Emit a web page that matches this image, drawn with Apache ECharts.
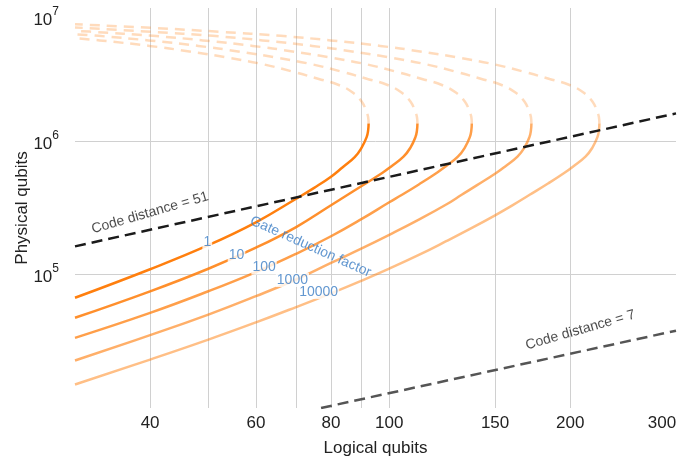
<!DOCTYPE html>
<html>
<head>
<meta charset="utf-8">
<script src="https://cdn.jsdelivr.net/npm/echarts@6/dist/echarts.min.js"></script>
<style>
  html, body { margin: 0; padding: 0; background: #fff; }
  #chart { width: 699px; height: 462px; }
</style>
</head>
<body>
<div id="chart"></div>
<script>
// grid lines / labels on the log axes
const xTicks = [40, 50, 60, 70, 80, 90, 100, 150, 200]
const xLabels = [40, 60, 80, 100, 150, 200, 300]
const yTicks = [1e5, 1e6]
const yLabels = [1e5, 1e6, 1e7]

const factors = ['1', '10', '100', '1000', '10000']

// lower branch (solid), from the left edge up to the turning point
const solid1 = [[30, 6.71e4], [40, 1.098e5], [50, 1.663e5], [60, 2.47e5], [70, 3.71e5], [75, 4.48e5], [80, 5.43e5], [83.67, 6.40e5], [87.6, 7.61e5], [89.96, 8.97e5], [91.7, 1.075e6], [92.22, 1.204e6], [92.4, 1.359e6]]
const solid10 = [[30, 4.75e4], [40, 7.50e4], [50, 1.108e5], [60, 1.594e5], [70, 2.276e5], [80, 3.314e5], [85.28, 3.973e5], [97.47, 5.817e5], [100.87, 6.51e5], [105.61, 7.67e5], [108.46, 8.97e5], [110.55, 1.075e6], [111.19, 1.204e6], [111.4, 1.359e6]]
const solid100 = [[30, 3.36e4], [40, 5.17e4], [50, 7.51e4], [60, 1.046e5], [70, 1.434e5], [80, 1.941e5], [90, 2.618e5], [100, 3.49e5], [105.03, 3.973e5], [112, 4.75e5], [120.04, 5.817e5], [124.24, 6.51e5], [130.07, 7.67e5], [133.58, 8.97e5], [136.16, 1.075e6], [136.94, 1.204e6], [137.2, 1.359e6]]
const solid1000 = [[30, 2.272e4], [40, 3.52e4], [50, 5.02e4], [60, 6.90e4], [70, 9.20e4], [80, 1.225e5], [90, 1.574e5], [100, 1.989e5], [112, 2.586e5], [124.6, 3.372e5], [131.98, 3.973e5], [140, 4.69e5], [150.84, 5.817e5], [156.11, 6.51e5], [163.44, 7.67e5], [167.86, 8.97e5], [171.09, 1.075e6], [172.07, 1.204e6], [172.4, 1.359e6]]
const solid10000 = [[30, 1.50e4], [40, 2.308e4], [50, 3.257e4], [60, 4.386e4], [70, 5.716e4], [80, 7.247e4], [90, 9.03e4], [100, 1.11e5], [112, 1.406e5], [124.6, 1.789e5], [137, 2.233e5], [150, 2.787e5], [160, 3.296e5], [171.25, 3.973e5], [184, 4.85e5], [195.73, 5.817e5], [202.56, 6.51e5], [212.07, 7.67e5], [217.8, 8.97e5], [222.0, 1.075e6], [223.27, 1.204e6], [223.7, 1.359e6]]

// upper branch (dashed), from the turning point back to the left edge
const dashed1 = [[92.4, 1.359e6], [92.22, 1.521e6], [91.7, 1.658e6], [89.96, 1.989e6], [86.93, 2.324e6], [82.4, 2.646e6], [76.34, 2.936e6], [69.4, 3.314e6], [61.89, 3.773e6], [54.16, 4.224e6], [46.48, 4.725e6], [39.9, 5.197e6], [32.97, 5.716e6], [30, 5.94e6]]
const dashed10 = [[111.4, 1.359e6], [111.19, 1.521e6], [110.55, 1.658e6], [108.46, 1.989e6], [104.8, 2.324e6], [99.35, 2.646e6], [92.04, 2.936e6], [83.67, 3.314e6], [74.62, 3.773e6], [65.29, 4.224e6], [56.04, 4.725e6], [48.11, 5.197e6], [39.75, 5.716e6], [32.84, 6.18e6], [30, 6.353e6]]
const dashed100 = [[137.2, 1.359e6], [136.94, 1.521e6], [136.16, 1.658e6], [133.58, 1.989e6], [129.07, 2.324e6], [122.35, 2.646e6], [113.36, 2.936e6], [103.05, 3.314e6], [91.9, 3.773e6], [80.42, 4.224e6], [69.02, 4.725e6], [59.25, 5.197e6], [48.95, 5.716e6], [40.45, 6.18e6], [32.17, 6.624e6], [30, 6.744e6]]
const dashed1000 = [[172.4, 1.359e6], [172.07, 1.521e6], [171.09, 1.658e6], [167.86, 1.989e6], [162.19, 2.324e6], [153.75, 2.646e6], [142.44, 2.936e6], [129.49, 3.314e6], [115.48, 3.773e6], [101.05, 4.224e6], [86.73, 4.725e6], [74.45, 5.197e6], [61.51, 5.716e6], [50.83, 6.18e6], [40.42, 6.624e6], [30, 7.145e6]]
const dashed10000 = [[223.7, 1.359e6], [223.27, 1.521e6], [222.0, 1.658e6], [217.8, 1.989e6], [210.45, 2.324e6], [199.5, 2.646e6], [184.83, 2.936e6], [168.03, 3.314e6], [149.84, 3.773e6], [131.12, 4.224e6], [112.53, 4.725e6], [96.6, 5.197e6], [79.82, 5.716e6], [65.95, 6.18e6], [52.45, 6.624e6], [40.16, 7.099e6], [30, 7.55e6]]

// code distance lines
const distance51 = [[30, 1.63e5], [300, 1.62e6]]
const distance7 = [[77, 1e4], [300, 3.8e4]]

// where the text annotations sit (data coords)
const factorLabelPos = [[49.8, 1.74e5], [55.7, 1.40e5], [61.9, 1.13e5], [69, 9.12e4], [76.3, 7.41e4]]
const factorTitlePos = [74, 1.62e5]
const d51LabelPos = [40, 2.91e5]
const d7LabelPos = [208, 3.84e4]

const solids = [solid1, solid10, solid100, solid1000, solid10000]
const dashes = [dashed1, dashed10, dashed100, dashed1000, dashed10000]
const alphas = [1, 0.875, 0.75, 0.625, 0.5]
const FONT = 'Liberation Sans, Arial, sans-serif'
const BLUE = '#3b7dc4'

const chart = echarts.init(document.getElementById('chart'))

const series = []
solids.forEach((d, i) => {
  series.push({
    name: factors[i], type: 'line', data: d, smooth: 0.45, symbol: 'none', z: 2,
    lineStyle: { color: 'rgba(255,127,14,' + alphas[i] + ')', width: 2.5 }
  })
})
dashes.forEach((d, i) => {
  series.push({
    name: factors[i] + ' upper', type: 'line', data: d, smooth: 0.45, symbol: 'none', z: 2,
    lineStyle: { color: 'rgba(255,127,14,0.28)', width: 2.5, type: [10, 7] }
  })
})
series.push({
  name: 'd51', type: 'line', data: distance51, symbol: 'none', z: 5,
  lineStyle: { color: '#1b1b1b', width: 2.5, type: [11, 6] }
})
series.push({
  name: 'd7', type: 'line', data: distance7, symbol: 'none', z: 5,
  lineStyle: { color: '#555', width: 2.5, type: [11, 6] }
})

const textLabel = (t, pos, color, rotate, bg) => ({
  value: pos,
  label: {
    show: true, position: 'inside', formatter: t, rotate: rotate,
    color: color, fontSize: 14, fontFamily: FONT,
    backgroundColor: bg ? '#fff' : 'transparent', padding: bg ? [0, 1] : 0
  }
})
const labelData = factors.map((f, i) => textLabel(f, factorLabelPos[i], BLUE, 0, true))
labelData.push(textLabel('Gate reduction factor', factorTitlePos, BLUE, -24, false))
labelData.push(textLabel('Code distance = 51', d51LabelPos, '#1b1b1b', 16, false))
labelData.push(textLabel('Code distance = 7', d7LabelPos, '#1b1b1b', 16, false))
series.push({
  name: 'labels', type: 'scatter', data: labelData, symbolSize: 1, z: 3,
  itemStyle: { color: 'transparent' }, silent: true
})

chart.setOption({
  animation: false,
  grid: { left: 75, right: 23, top: 8, bottom: 54, containLabel: false, outerBoundsMode: 'none' },
  xAxis: {
    type: 'log', logBase: 10, min: 30, max: 300,
    name: 'Logical qubits', nameLocation: 'middle', nameGap: 32, nameMoveOverlap: false,
    nameTextStyle: { fontSize: 17, color: '#222', fontFamily: FONT },
    axisLine: { show: false },
    axisTick: { show: false, customValues: xTicks },
    splitLine: { show: true, lineStyle: { color: '#d0d0d0', width: 1 } },
    axisLabel: {
      customValues: xLabels, margin: 7, fontSize: 17, color: '#222', fontFamily: FONT,
      formatter: v => (v === 300 ? '{r|300}' : String(v)),
      rich: { r: { fontSize: 17, color: '#222', fontFamily: FONT, padding: [0, 28, 0, 0] } }
    }
  },
  yAxis: {
    type: 'log', logBase: 10, min: 1e4, max: 1e7,
    name: 'Physical qubits', nameLocation: 'middle', nameGap: 44, nameMoveOverlap: false,
    nameTextStyle: { fontSize: 17, color: '#222', fontFamily: FONT },
    axisLine: { show: false },
    axisTick: { show: false, customValues: yTicks },
    splitLine: { show: true, lineStyle: { color: '#d0d0d0', width: 1 } },
    axisLabel: {
      customValues: yLabels, margin: 16,
      formatter: v => {
        const e = Math.round(Math.log10(v))
        return (e === 7 ? '{pad| }\n' : '') + '{b|10}{s|' + e + '}'
      },
      rich: {
        b: { fontSize: 17, color: '#222', fontFamily: FONT, padding: [6, 0, 0, 0] },
        s: { fontSize: 12, color: '#222', fontFamily: FONT, verticalAlign: 'top' },
        pad: { fontSize: 10, lineHeight: 18 }
      }
    }
  },
  series: series
})
</script>
</body>
</html>
